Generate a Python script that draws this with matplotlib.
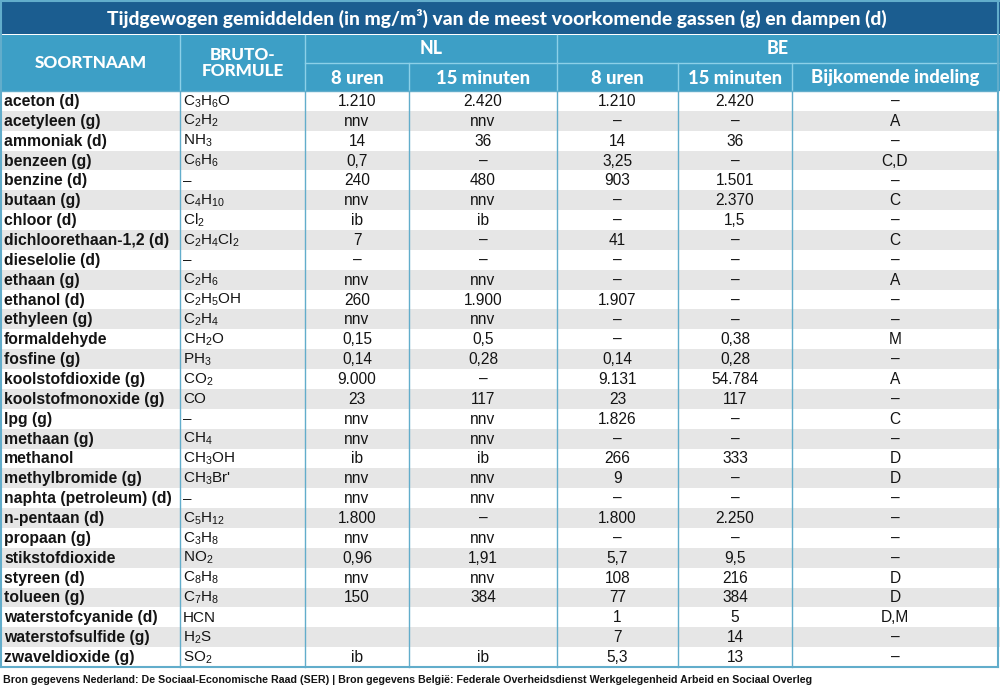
import re
import matplotlib
matplotlib.use("Agg")
import matplotlib.pyplot as plt
from matplotlib.patches import Rectangle
from matplotlib import font_manager as fm

plt.rcParams['mathtext.default'] = 'regular'

# ---------------- data ----------------
title = "Tijdgewogen gemiddelden (in mg/m³) van de meest voorkomende gassen (g) en dampen (d)"
footer = ("Bron gegevens Nederland: De Sociaal-Economische Raad (SER) | Bron gegevens België: "
          "Federale Overheidsdienst Werkgelegenheid Arbeid en Sociaal Overleg")

names = ["aceton (d)", "acetyleen (g)", "ammoniak (d)", "benzeen (g)", "benzine (d)",
         "butaan (g)", "chloor (d)", "dichloorethaan-1,2 (d)", "dieselolie (d)", "ethaan (g)",
         "ethanol (d)", "ethyleen (g)", "formaldehyde", "fosfine (g)", "koolstofdioxide (g)",
         "koolstofmonoxide (g)", "lpg (g)", "methaan (g)", "methanol", "methylbromide (g)",
         "naphta (petroleum) (d)", "n-pentaan (d)", "propaan (g)", "stikstofdioxide",
         "styreen (d)", "tolueen (g)", "waterstofcyanide (d)", "waterstofsulfide (g)",
         "zwaveldioxide (g)"]

formulas = ["C3H6O", "C2H2", "NH3", "C6H6", "–", "C4H10", "Cl2", "C2H4Cl2", "–", "C2H6",
            "C2H5OH", "C2H4", "CH2O", "PH3", "CO2", "CO", "–", "CH4", "CH3OH", "CH3Br'",
            "–", "C5H12", "C3H8", "NO2", "C8H8", "C7H8", "HCN", "H2S", "SO2"]

nl_8h = ["1.210", "nnv", "14", "0,7", "240", "nnv", "ib", "7", "–", "nnv",
         "260", "nnv", "0,15", "0,14", "9.000", "23", "nnv", "nnv", "ib", "nnv",
         "nnv", "1.800", "nnv", "0,96", "nnv", "150", "", "", "ib"]

nl_15m = ["2.420", "nnv", "36", "–", "480", "nnv", "ib", "–", "–", "nnv",
          "1.900", "nnv", "0,5", "0,28", "–", "117", "nnv", "nnv", "ib", "nnv",
          "nnv", "–", "nnv", "1,91", "nnv", "384", "", "", "ib"]

be_8h = ["1.210", "–", "14", "3,25", "903", "–", "–", "41", "–", "–",
         "1.907", "–", "–", "0,14", "9.131", "23", "1.826", "–", "266", "9",
         "–", "1.800", "–", "5,7", "108", "77", "1", "7", "5,3"]

be_15m = ["2.420", "–", "36", "–", "1.501", "2.370", "1,5", "–", "–", "–",
          "–", "–", "0,38", "0,28", "54.784", "117", "–", "–", "333", "–",
          "–", "2.250", "–", "9,5", "216", "384", "5", "14", "13"]

be_extra = ["–", "A", "–", "C,D", "–", "C", "–", "C", "–", "A",
            "–", "–", "M", "–", "A", "–", "C", "–", "D", "D",
            "–", "–", "–", "–", "D", "D", "D,M", "–", "–"]

group_labels = ["NL", "BE"]
sub_labels = ["8 uren", "15 minuten", "8 uren", "15 minuten", "Bijkomende indeling"]
col_labels = ["SOORTNAAM", "BRUTO-\nFORMULE"]

# ---------------- style ----------------
def has_font(name):
    try:
        fm.findfont(fm.FontProperties(family=name), fallback_to_default=False)
        return True
    except Exception:
        return False

body_font = "Liberation Sans"
narrow_font = "Liberation Sans Narrow" if has_font("Liberation Sans Narrow") else "Liberation Sans"
head_font = "Lato"

C_TITLE = "#1b5d90"
C_HEAD = "#3d9fc6"
C_HEAD_LINE = "#8cd0e8"
C_GRID = "#62adcb"
C_GREY = "#e6e6e6"
C_TEXT = "#141414"

col_edges = [1, 180, 305, 409, 557, 678, 792, 998]
title_top, title_bot = 0, 34
head_top, head_mid, head_bot = 35, 63, 91
table_bot = 667
n = len(names)
row_h = (table_bot - head_bot) / n

def fmt_formula(s):
    return re.sub(r"(\d+)", lambda m: r"$_{" + m.group(1) + "}$", s)

fig = plt.figure(figsize=(10, 6.88), dpi=100)
ax = fig.add_axes([0, 0, 1, 1])
ax.set_xlim(0, 1000)
ax.set_ylim(688, 0)
ax.axis("off")

# title bar
ax.add_patch(Rectangle((0, title_top), 1000, title_bot - title_top, color=C_TITLE, lw=0))
ax.plot([0, 1000], [0.7, 0.7], color=C_GRID, lw=1.5)
ax.text(497, (title_top + title_bot) / 2 + 1, title, color="white", ha="center", va="center",
        fontsize=13.9, fontweight="black", family=head_font)

# header band
ax.add_patch(Rectangle((0, head_top), 1000, head_bot - head_top, color=C_HEAD, lw=0))
ax.plot([col_edges[2], col_edges[-1]], [head_mid, head_mid], color=C_HEAD_LINE, lw=1)
for x in col_edges[1:-1]:
    y0 = head_top if x in (col_edges[1], col_edges[2], col_edges[4]) else head_mid
    ax.plot([x, x], [y0, head_bot], color=C_HEAD_LINE, lw=1)

hkw = dict(color="white", ha="center", va="center", fontweight="black", family=head_font)
ax.text((col_edges[0] + col_edges[1]) / 2, (head_top + head_bot) / 2, col_labels[0],
        fontsize=12.3, **hkw)
ax.text((col_edges[1] + col_edges[2]) / 2, (head_top + head_bot) / 2, col_labels[1],
        fontsize=12.3, linespacing=0.95, **hkw)
ax.text((col_edges[2] + col_edges[4]) / 2, (head_top + head_mid) / 2, group_labels[0],
        fontsize=12.8, **hkw)
ax.text((col_edges[4] + col_edges[7]) / 2, (head_top + head_mid) / 2, group_labels[1],
        fontsize=12.8, **hkw)
for i, lab in enumerate(sub_labels):
    ax.text((col_edges[2 + i] + col_edges[3 + i]) / 2, (head_mid + head_bot) / 2 + 1, lab,
            fontsize=13.2, **hkw)

# body rows
value_cols = [nl_8h, nl_15m, be_8h, be_15m, be_extra]
for r in range(n):
    y0 = head_bot + r * row_h
    yc = y0 + row_h / 2
    if r % 2 == 1:
        ax.add_patch(Rectangle((0, y0), 1000, row_h, color=C_GREY, lw=0))
    ax.text(col_edges[0] + 3, yc + 0.5, names[r], ha="left", va="center", fontsize=11.3,
            fontweight="bold", family=body_font, color=C_TEXT)
    ax.text(col_edges[1] + 3, yc + 0.5, fmt_formula(formulas[r]), ha="left", va="center",
            fontsize=11, family=narrow_font, color=C_TEXT)
    for c, vals in enumerate(value_cols):
        ax.text((col_edges[2 + c] + col_edges[3 + c]) / 2, yc + 0.5, vals[r], ha="center",
                va="center", fontsize=11.2, family=narrow_font, color=C_TEXT)

# grid lines
for x in col_edges[1:-1]:
    ax.plot([x, x], [head_bot, table_bot], color=C_GRID, lw=1)
ax.plot([col_edges[0], col_edges[0]], [title_top, table_bot], color=C_GRID, lw=1.5)
ax.plot([col_edges[-1], col_edges[-1]], [title_top, table_bot], color=C_GRID, lw=1.5)
ax.plot([col_edges[0], col_edges[-1]], [table_bot, table_bot], color=C_GRID, lw=1.5)
ax.plot([col_edges[0], col_edges[-1]], [head_bot, head_bot], color=C_GRID, lw=1)

# footer
ax.text(3, 680, footer, ha="left", va="center", fontsize=7.7, fontweight="bold",
        family=body_font, color=C_TEXT)

fig.savefig("out.png", dpi=100, facecolor="white")
